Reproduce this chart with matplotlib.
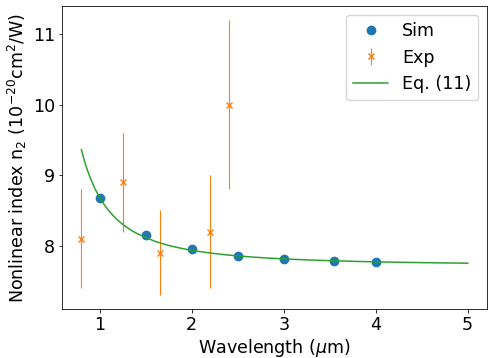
import matplotlib
matplotlib.use("Agg")
import matplotlib.pyplot as plt

# simulated n2 values
sim_wl = [1.0, 1.5, 2.0, 2.5, 3.0, 3.55, 4.0]
sim_n2 = [8.68, 8.155, 7.95, 7.855, 7.81, 7.78, 7.765]

# experimental n2 with error bars
exp_wl = [0.8, 1.25, 1.65, 2.2, 2.4]
exp_n2 = [8.1, 8.9, 7.9, 8.2, 10.0]
exp_err = [0.7, 0.7, 0.6, 0.8, 1.2]

# Eq. (11) curve
eq_wl = [0.8, 0.825, 0.85, 0.875, 0.9, 0.95, 1.0, 1.05, 1.1, 1.15, 1.2,
         1.25, 1.3, 1.35, 1.4, 1.5, 1.6, 1.7, 1.8, 1.9, 2.0, 2.2, 2.4,
         2.6, 2.8, 3.0, 3.25, 3.5, 3.75, 4.0, 4.5, 5.0]
eq_n2 = [9.36, 9.24, 9.13, 9.035, 8.95, 8.80, 8.68, 8.578, 8.493, 8.42, 8.357,
         8.302, 8.255, 8.213, 8.176, 8.117, 8.063, 8.022, 7.988, 7.96, 7.935,
         7.897, 7.868, 7.846, 7.828, 7.814, 7.80, 7.789, 7.78, 7.772, 7.761,
         7.753]

# original looks like a 72 dpi figure, so shrink pads/lengths to match at 100 dpi
s = 0.72
plt.rcParams.update({
    'font.size': 12.6,
    'xtick.major.size': 3.5 * s, 'ytick.major.size': 3.5 * s,
    'xtick.major.pad': 3.5 * s, 'ytick.major.pad': 3.5 * s,
    'xtick.major.width': 0.8 * s, 'ytick.major.width': 0.8 * s,
    'axes.linewidth': 0.8 * s,
    'axes.labelpad': 4.0 * s,
    'lines.linewidth': 1.5 * s,
})

fig = plt.figure(figsize=(4.89, 3.58), dpi=100)
ax = fig.add_axes([0.127, 0.137, 0.869, 0.846])

h_sim, = ax.plot(sim_wl, sim_n2, 'o', color='C0', markersize=6, label='Sim')
h_exp = ax.errorbar(exp_wl, exp_n2, yerr=exp_err, fmt='x', color='C1',
                    markersize=5, markeredgewidth=1.0, elinewidth=0.8,
                    label='Exp')
h_eq, = ax.plot(eq_wl, eq_n2, '-', color='C2', label='Eq. (11)')

ax.set_xticks([1, 2, 3, 4, 5])
ax.set_yticks([8, 9, 10, 11])
ax.set_xlabel(r'Wavelength ($\mu$m)', labelpad=2)
ax.set_ylabel(r'Nonlinear index n$_2$ (10$^{-20}$cm$^2$/W)')
ax.legend(handles=[h_sim, h_exp, h_eq], loc='upper right')

fig.savefig('out.png', dpi=100)
